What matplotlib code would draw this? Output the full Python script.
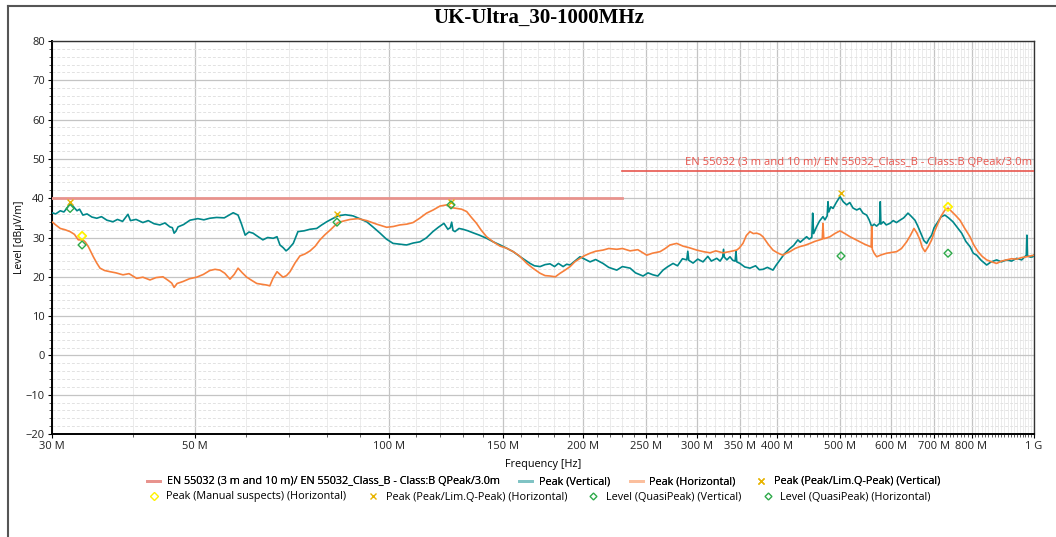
import matplotlib
matplotlib.use("Agg")
import matplotlib.pyplot as plt
from matplotlib.lines import Line2D
from matplotlib.ticker import FixedLocator, NullFormatter

plt.rcParams['font.family'] = ['Open Sans', 'DejaVu Sans']

# limit line EN 55032 class B, 3 m  (MHz, dBuV/m)
lim_freq = [30, 230, 230, 1000]
lim_level = [40, 40, 47, 47]
lim_label = "EN 55032 (3 m and 10 m)/ EN 55032_Class_B - Class:B QPeak/3.0m"

# Peak (Vertical) trace
vert_freq = [30.0, 30.4, 30.9, 31.3, 31.7, 32.0, 32.4, 32.8, 33.1, 33.5, 34.0, 34.6, 35.2, 35.8,
             36.5, 37.3, 37.9, 38.6, 39.35, 39.7, 40.5, 41.5, 42.3, 43.2, 44.1, 44.9, 45.7,
             46.1, 46.4, 46.7, 47.05, 48.0, 49.1, 50.5, 51.6, 52.7, 54.0, 55.5, 57.3, 58.3,
             59.0, 59.8, 60.6, 61.5, 62.5, 63.7, 64.8, 66.1, 67.0, 67.7, 68.5, 69.2, 69.8,
             71.0, 72.2, 73.8, 75.4, 77.2, 78.6, 80.0, 81.7, 83.3, 85.5, 87.9, 90.0, 92.3,
             94.5, 96.8, 99.0, 101.4, 103.9, 106.4, 109.0, 111.6, 114.2, 116.9, 119.2, 121.6,
             123.3, 124.4, 125.0, 125.6, 126.5, 128.3, 130.1, 132.5, 134.9, 138.0, 141.6,
             145.0, 148.6, 152.0, 155.7, 160.0, 165.4, 168.0, 171.4, 174.5, 177.6, 180.5,
             183.0, 186.1, 188.5, 190.8, 194.0, 197.7, 201.0, 204.9, 209.0, 214.6, 219.0,
             225.4, 230.0, 236.4, 241.0, 247.6, 252.0, 256.6, 261.0, 265.9, 270.0, 275.6,
             280.0, 285.0, 289.4, 290.5, 291.5, 296.0, 301.0, 306.7, 312.0, 316.0, 322.1,
             326.0, 329.0, 330.0, 331.0, 334.0, 337.7, 341.0, 344.0, 345.0, 346.0, 350.0,
             356.0, 362.7, 370.0, 375.0, 379.9, 386.0, 393.7, 398.0, 403.7, 410.0, 418.2,
             424.0, 430.4, 434.0, 438.3, 444.0, 448.0, 452.3, 453.7, 455.2, 460.3, 465.0,
             470.7, 474.0, 477.8, 479.2, 480.6, 484.0, 487.9, 494.0, 500.2, 506.0, 512.3,
             518.0, 524.0, 530.9, 537.0, 543.0, 550.2, 555.0, 560.1, 565.0, 570.0, 576.2,
             577.5, 578.8, 584.0, 590.0, 597.9, 605.0, 612.0, 619.6, 628.0, 637.6, 645.0,
             653.7, 660.0, 669.6, 675.0, 681.6, 687.0, 693.9, 700.0, 709.7, 718.0, 727.6,
             737.0, 748.7, 760.0, 772.4, 784.0, 795.6, 805.0, 814.9, 828.0, 844.5, 858.0,
             875.2, 890.0, 907.0, 923.0, 940.0, 957.0, 973.0, 975.0, 977.0, 988.0, 996.2,
             1000.0]
vert_level = [36.3, 36.0, 36.8, 36.5, 37.6, 38.9, 37.8, 36.8, 37.2, 35.7, 36.0, 35.2, 34.9, 35.3,
              34.4, 34.0, 34.6, 34.1, 35.9, 34.3, 34.6, 33.8, 34.3, 33.5, 33.2, 33.7, 32.7,
              32.5, 31.1, 31.6, 32.7, 33.3, 34.4, 34.8, 34.5, 34.9, 35.1, 35.0, 36.3, 35.7,
              33.5, 30.6, 31.4, 31.1, 30.3, 29.4, 30.0, 29.8, 30.2, 28.1, 27.4, 26.6, 27.1,
              28.5, 31.5, 31.7, 32.1, 32.3, 33.2, 34.0, 34.8, 35.5, 35.8, 35.5, 34.8, 34.0,
              32.6, 31.1, 29.6, 28.5, 28.3, 28.1, 28.6, 28.9, 29.9, 31.5, 32.6, 33.6,
              32.1, 32.5, 33.9, 31.8, 31.5, 32.3, 32.1, 31.7, 31.2, 30.6, 29.8,
              28.9, 28.1, 27.3, 26.4, 25.0, 23.4, 22.8, 22.6, 23.1, 23.3, 22.6,
              23.4, 22.6, 23.2, 23.0, 24.0, 25.1, 24.5, 23.8, 24.4, 23.4, 22.4,
              21.7, 22.6, 22.2, 21.0, 20.2, 21.0, 20.5, 20.2, 21.7, 22.5, 23.4,
              22.8, 24.6, 24.3, 26.5, 24.2, 23.5, 24.5, 23.8, 25.2, 24.0, 24.7,
              24.0, 25.0, 27.0, 25.0, 24.3, 25.1, 24.2, 24.0, 26.5, 23.8, 23.4,
              22.5, 22.2, 22.8, 21.8, 21.9, 22.4, 21.7, 22.9, 24.3, 25.8, 27.2,
              28.0, 29.4, 28.8, 29.4, 30.2, 29.6, 30.0, 36.2, 31.0, 32.8, 34.2,
              35.3, 34.5, 35.5, 39.1, 36.5, 37.8, 37.4, 39.0, 40.4, 39.1, 38.3,
              38.9, 37.5, 37.0, 37.4, 36.2, 35.7, 34.5, 32.8, 33.4, 32.9, 33.6,
              39.1, 33.4, 34.0, 33.2, 33.6, 34.3, 33.8, 34.4, 35.0, 36.2, 35.4,
              34.4, 33.0, 30.6, 29.2, 28.5, 29.6, 30.6, 32.5, 34.0, 35.3, 35.7,
              35.0, 34.0, 32.6, 31.1, 29.0, 27.7, 26.0, 25.5, 24.2, 23.0, 23.8,
              24.3, 23.8, 24.3, 24.0, 24.7, 24.3, 25.5, 30.6, 25.3, 25.0, 25.1,
              25.6]

# Peak (Horizontal) trace
hor_freq = [30.0, 30.4, 30.9, 31.4, 32.0, 32.5, 32.95, 33.5, 33.8, 34.15, 34.77, 35.2, 35.61,
            36.2, 36.9, 37.7, 38.65, 39.5, 40.59, 41.5, 42.57, 43.5, 44.59, 45.5, 46.0, 46.4,
            46.9, 47.89, 49.0, 50.28, 51.5, 52.7, 53.7, 54.65, 55.6, 56.64, 57.5, 58.3, 59.2,
            60.14, 61.2, 62.33, 63.5, 64.59, 65.3, 66.0, 67.0, 67.7, 68.46, 69.3, 70.19, 71.5,
            72.7, 74.0, 75.4, 76.8, 78.1, 79.5, 81.0, 83.3, 85.0, 87.0, 89.5, 92.3, 95.6, 99.1,
            101.5, 103.9, 106.5, 108.9, 111.5, 114.3, 117.0, 119.9, 122.8, 125.0, 127.2,
            129.5, 131.9, 134.0, 136.6, 139.0, 141.6, 145.0, 148.6, 152.0, 155.7, 159.0,
            163.5, 167.0, 171.4, 174.5, 177.6, 181.0, 184.1, 187.0, 190.8, 194.0, 197.7,
            201.0, 204.9, 209.0, 214.6, 219.0, 225.4, 230.0, 236.4, 243.0, 250.9, 256.0,
            263.1, 268.0, 272.6, 279.2, 285.6, 292.0, 299.9, 307.0, 314.5, 321.0, 329.4,
            337.0, 345.9, 349.0, 353.7, 358.0, 362.7, 367.0, 371.5, 376.0, 379.9, 387.0,
            393.7, 400.0, 407.9, 413.0, 418.2, 426.0, 433.6, 441.0, 449.4, 457.0, 465.7,
            469.5, 470.7, 472.0, 477.0, 482.7, 491.0, 500.2, 509.0, 518.4, 527.0, 537.2,
            546.0, 556.7, 559.0, 560.1, 561.3, 565.0, 570.2, 580.0, 590.9, 601.0, 612.4,
            623.0, 634.6, 643.0, 651.4, 658.0, 665.5, 671.0, 677.5, 685.0, 693.9, 701.0,
            709.7, 718.0, 727.6, 736.0, 745.3, 756.0, 767.7, 781.0, 795.6, 806.0, 818.7,
            831.0, 844.5, 860.0, 875.2, 890.0, 907.0, 923.0, 940.0, 957.0, 974.1, 987.0,
            1000.0]
hor_level = [34.0, 33.2, 32.3, 32.0, 31.5, 30.8, 29.4, 29.4, 28.8, 27.7, 25.1, 23.5, 22.2,
             21.6, 21.3, 21.0, 20.5, 20.8, 19.6, 19.9, 19.2, 19.8, 20.0, 19.0, 18.4, 17.3,
             18.3, 18.8, 19.5, 19.9, 20.6, 21.6, 21.9, 21.7, 20.9, 19.4, 20.6, 22.2, 21.0,
             19.9, 19.1, 18.3, 18.1, 17.9, 17.7, 19.5, 21.3, 20.6, 19.9, 20.3, 21.3, 23.6,
             25.3, 25.8, 26.6, 27.8, 29.4, 30.7, 31.9, 33.8, 34.2, 34.6, 34.8, 34.3, 33.4, 32.6,
             32.8, 33.2, 33.4, 33.8, 34.9, 36.2, 37.0, 38.0, 38.3, 37.6, 37.4,
             37.2, 36.6, 35.2, 33.6, 31.8, 30.2, 28.9, 27.8, 27.3, 26.4, 25.4,
             23.4, 22.2, 20.9, 20.3, 20.2, 20.0, 20.9, 21.6, 22.6, 23.8, 24.7,
             25.4, 26.0, 26.5, 26.8, 27.2, 27.0, 27.2, 26.6, 26.9, 25.5, 26.0,
             26.4, 27.2, 28.1, 28.5, 27.8, 27.4, 26.8, 26.4, 26.1, 26.6, 26.1,
             26.4, 26.8, 27.3, 28.5, 30.5, 31.5, 31.0, 31.1, 30.8, 30.2, 28.3,
             26.8, 26.1, 25.5, 26.0, 26.4, 27.2, 27.7, 28.0, 28.5, 29.0, 29.4,
             29.6, 33.6, 29.7, 29.9, 30.2, 31.0, 31.7, 31.0, 30.2, 29.6, 28.9,
             28.3, 27.7, 27.6, 32.8, 27.0, 26.0, 25.1, 25.6, 26.0, 26.2, 26.4,
             27.2, 28.9, 30.5, 32.3, 31.2, 29.4, 27.5, 26.4, 27.6, 29.4, 31.5,
             33.6, 35.5, 37.0, 37.5, 36.6, 35.6, 34.4, 32.3, 30.2, 28.2, 26.4,
             25.2, 24.3, 23.8, 23.4, 24.0, 24.3, 24.6, 24.5, 24.9, 25.1, 25.3,
             25.5]

# final measurement markers
pk_v_freq = [32.0, 83.0, 502.0]
pk_v_level = [39.0, 36.0, 41.2]
pk_h_freq = [124.7]
pk_h_level = [39.1]
man_h_freq = [33.4, 735.6]
man_h_level = [30.4, 37.8]
qp_v_freq = [32.0, 83.0, 502.0]
qp_v_level = [37.4, 33.9, 25.3]
qp_h_freq = [33.4, 124.7, 735.6]
qp_h_level = [28.1, 38.3, 26.0]

tick_freq = [30, 50, 100, 150, 200, 250, 300, 350, 400, 500, 600, 700, 800, 1000]
tick_text = ['30 M', '50 M', '100 M', '150 M', '200 M', '250 M', '300 M', '350 M',
             '400 M', '500 M', '600 M', '700 M', '800 M', '1 G']

c_vert = '#00878a'
c_hor = '#f7803c'
c_lim = '#e8564e'
c_lim_lo = '#e8938d'
c_pk = '#e8b400'
c_man = '#fff200'
c_qp = '#2eaa4a'

fig = plt.figure(figsize=(10.56, 5.37), dpi=100)
ax = fig.add_axes([52 / 1056, 1 - 434 / 537, 982 / 1056, 393 / 537])

ax.plot(lim_freq[:2], lim_level[:2], color=c_lim_lo, lw=2.0, zorder=3)
ax.plot(lim_freq[2:], lim_level[2:], color=c_lim, lw=1.2, zorder=3)
ax.text(995, 47.6, lim_label, color=c_lim, fontsize=8.1, ha='right', va='bottom')

ax.plot(vert_freq, vert_level, color=c_vert, lw=1.2, zorder=4)
ax.plot(hor_freq, hor_level, color=c_hor, lw=1.2, zorder=5)

ax.scatter(pk_v_freq, pk_v_level, marker='x', s=18, color=c_pk, lw=1.0, zorder=7)
ax.scatter(pk_h_freq, pk_h_level, marker='x', s=18, color=c_pk, lw=1.0, zorder=7)
ax.scatter(man_h_freq, man_h_level, marker='D', s=18, facecolors='none', edgecolors=c_man,
           lw=1.3, zorder=7)
ax.scatter(qp_v_freq, qp_v_level, marker='D', s=16, facecolors='none', edgecolors=c_qp,
           lw=1.0, zorder=8)
ax.scatter(qp_h_freq, qp_h_level, marker='D', s=16, facecolors='none', edgecolors=c_qp,
           lw=1.0, zorder=8)

ax.set_xscale('log')
ax.set_xlim(30, 1000)
ax.set_ylim(-20, 80)

ax.xaxis.set_major_locator(FixedLocator(tick_freq))
ax.set_xticklabels(tick_text)
minor_x = [f for f in range(40, 100, 10) if f != 50] + \
          [f for f in range(110, 1000, 10) if f not in tick_freq]
ax.xaxis.set_minor_locator(FixedLocator(minor_x))
ax.xaxis.set_minor_formatter(NullFormatter())
ax.set_yticks(range(-20, 81, 10))
ax.set_yticks(range(-20, 81, 2), minor=True)

ax.grid(True, which='major', axis='both', color='#c4c4c4', lw=0.9, zorder=0)
ax.grid(True, which='minor', axis='y', color='#e2e2e2', lw=0.7, ls=(0, (3, 2)), zorder=0)
ax.grid(True, which='minor', axis='x', color='#ebebeb', lw=0.7, zorder=0)
ax.set_axisbelow(True)

ax.tick_params(axis='both', which='major', labelsize=8, length=3, color='black',
               labelcolor='#222222', pad=2)
ax.tick_params(axis='both', which='minor', length=2, color='#444444')
for s in ['left', 'bottom']:
    ax.spines[s].set_linewidth(1.4)
for s in ['top', 'right']:
    ax.spines[s].set_linewidth(1.0)
    ax.spines[s].set_color('#333333')

fig.text(539 / 1056, 1 - 18 / 537, 'UK-Ultra_30-1000MHz', ha='center', va='center',
         fontsize=15, fontweight='bold', family='Liberation Serif')
fig.text(20 / 1056, 1 - 237 / 537, 'Level [dBµV/m]', rotation=90, ha='center',
         va='center', fontsize=7.5)
fig.text(543 / 1056, 1 - 464 / 537, 'Frequency [Hz]', ha='center', va='center',
         fontsize=7.8)

# frame around the chart panel
fig.add_artist(Line2D([8 / 1056, 8 / 1056], [0, 1 - 6 / 537], color='#555555', lw=1.5))
fig.add_artist(Line2D([8 / 1056, 1], [1 - 6 / 537, 1 - 6 / 537], color='#555555', lw=1.5))

row1 = [
    Line2D([], [], color=c_lim_lo, lw=2),
    Line2D([], [], color='#7fc3c4', lw=2),
    Line2D([], [], color='#fbbf9d', lw=2),
    Line2D([], [], color=c_pk, marker='x', ls='none', ms=4),
]
row1_text = [lim_label, 'Peak (Vertical)', 'Peak (Horizontal)',
             'Peak (Peak/Lim.Q-Peak) (Vertical)']
row2 = [
    Line2D([], [], color=c_man, marker='D', mfc='none', ls='none', ms=4),
    Line2D([], [], color=c_pk, marker='x', ls='none', ms=4),
    Line2D([], [], color=c_qp, marker='D', mfc='none', ls='none', ms=3.5),
    Line2D([], [], color=c_qp, marker='D', mfc='none', ls='none', ms=3.5),
]
row2_text = ['Peak (Manual suspects) (Horizontal)', 'Peak (Peak/Lim.Q-Peak) (Horizontal)',
             'Level (QuasiPeak) (Vertical)', 'Level (QuasiPeak) (Horizontal)']
kw = dict(ncol=4, frameon=False, fontsize=7.8, handlelength=1.2, handletextpad=0.6,
          columnspacing=1.8, borderaxespad=0, borderpad=0)
leg1 = fig.legend(row1, row1_text, loc='center', bbox_to_anchor=(544 / 1056, 1 - 482 / 537), **kw)
fig.legend(row2, row2_text, loc='center', bbox_to_anchor=(539 / 1056, 1 - 497 / 537), **kw)
fig.add_artist(leg1)

fig.savefig('out.png', dpi=100)
